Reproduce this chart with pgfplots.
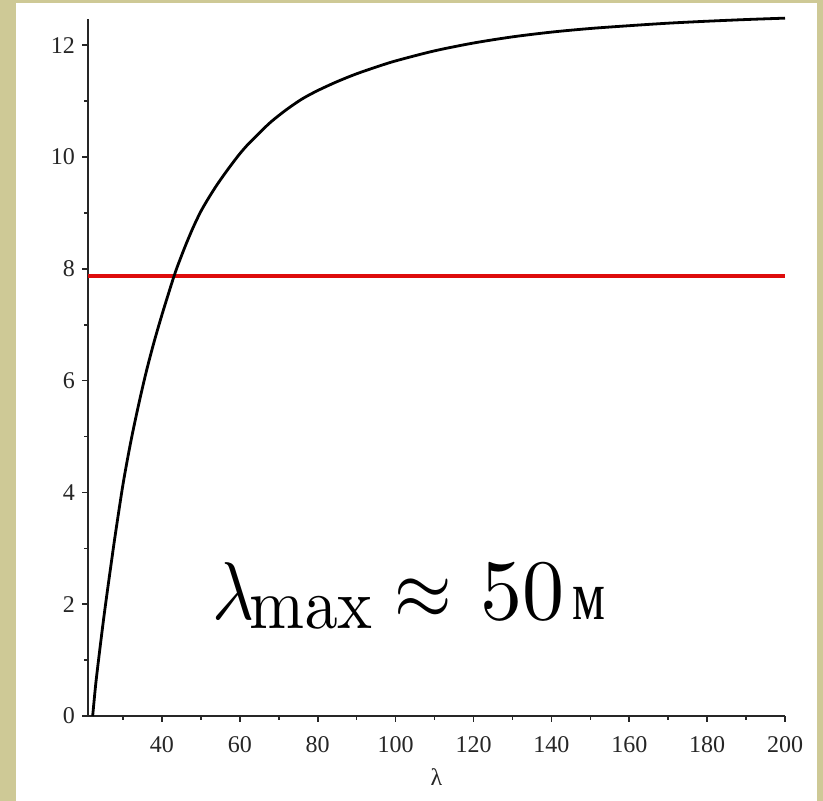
\documentclass[border=0pt]{standalone}
\usepackage[no-math]{fontspec}
\setmainfont{Liberation Serif}
\newfontfamily\ruserif{Liberation Serif}
\usepackage{pgfplots}
\pgfplotsset{compat=1.18}
\definecolor{khaki}{RGB}{206,201,150}
\definecolor{redline}{RGB}{222,12,12}
\pgfplotstableread{
lam val
22.2 0
23 0.58
24 1.17
25 1.73
26 2.25
27 2.75
28 3.24
30 4.15
32 4.91
34 5.57
36 6.17
38 6.70
40 7.18
42 7.63
43 7.85
44 8.05
46 8.41
48 8.74
50 9.03
52 9.27
54 9.49
56 9.69
58 9.88
60 10.06
62 10.22
65 10.43
68 10.63
72 10.85
76 11.04
80 11.19
85 11.35
90 11.49
95 11.61
100 11.72
110 11.90
120 12.04
130 12.15
140 12.235
150 12.30
160 12.35
170 12.395
180 12.43
190 12.46
200 12.485
}\curvedata
\begin{document}
\begin{tikzpicture}[x=1pt,y=1pt]
\fill[khaki] (0,0) rectangle (411.5,400.5);
\fill[white] (8,0) rectangle (408.5,399);
\begin{axis}[
  at={(44pt,42.5pt)}, anchor=south west,
  scale only axis, width=348.5pt, height=348.5pt,
  xmin=21, xmax=200, ymin=0, ymax=12.47,
  clip=false,
  axis lines=left,
  axis line style={-, line width=0.9pt, black!85},
  xtick={40,60,...,200}, minor xtick={30,50,...,190},
  ytick={0,2,...,12}, minor ytick={1,3,...,11},
  tick align=outside,
  major tick length=3pt, minor tick length=2pt,
  every tick/.style={black!85, line width=0.8pt},
  /pgf/number format/assume math mode=true,
  tick label style={font=\fontsize{12}{14}\selectfont, black!85},
  xticklabel style={yshift=-3.5pt},
  xlabel={λ},
  x label style={at={(axis description cs:0.5,0)}, anchor=center, yshift=-30.5pt, font=\fontsize{12}{14}\selectfont, black!85},
]
\addplot[redline, line width=1.7pt] coordinates {(21,7.87) (200,7.87)};
\addplot[black, line width=1.4pt, smooth] table[x=lam, y=val] {\curvedata};
\end{axis}
% annotation text: lambda_max ~ 50 m
\node[anchor=base west, inner sep=0pt] at (106,90.5) {\scalebox{3.6}[4.1]{$\lambda$}};
\node[anchor=base west, inner sep=0pt] at (124.5,86) {\scalebox{3.3}[3.6]{$\mathrm{max}$}};
\node[anchor=base west, inner sep=0pt] at (197,90.5) {\scalebox{3.7}[4.2]{$\approx$}};
\node[anchor=base west, inner sep=0pt] at (240,90.5) {\scalebox{4.2}[4.3]{$50$}};
\node[anchor=base west, inner sep=0pt] at (286,90.5) {\scalebox{2.6}[3.5]{\ruserif м}};
\end{tikzpicture}
\end{document}
